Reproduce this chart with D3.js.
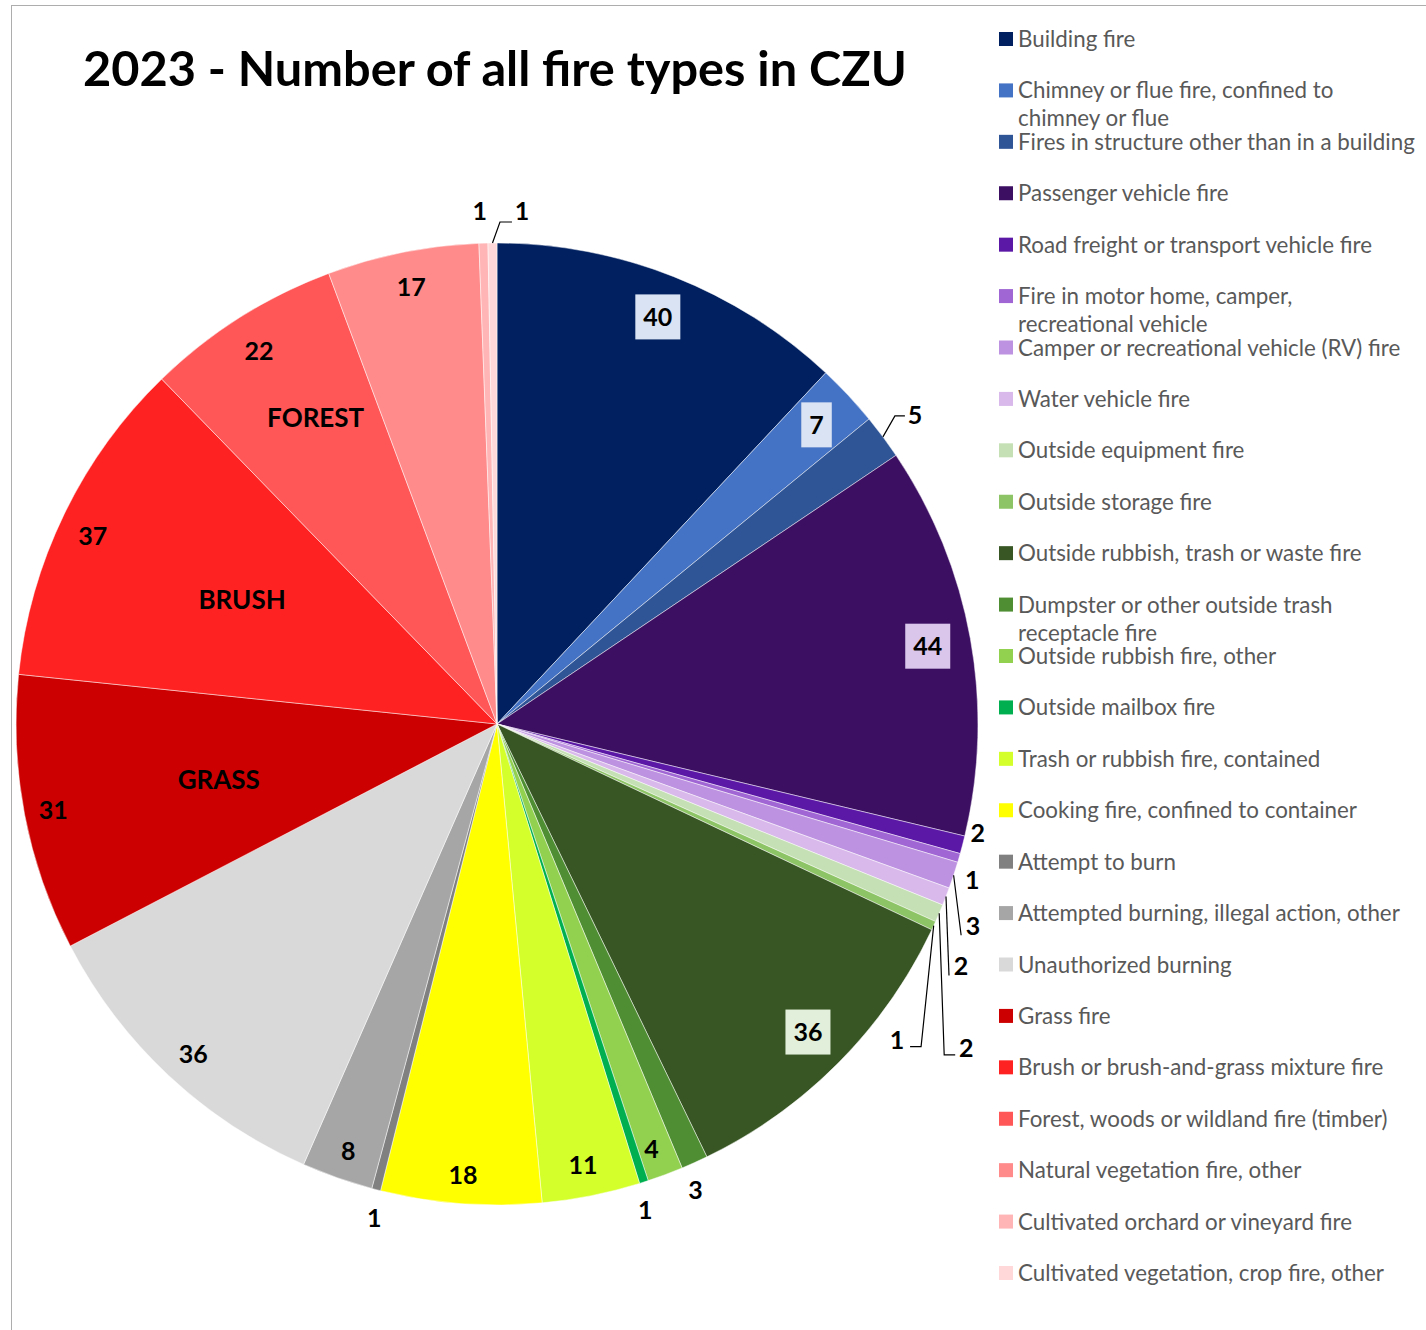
<!DOCTYPE html>
<html>
<head>
<meta charset="utf-8">
<script src="https://cdn.jsdelivr.net/npm/d3@7"></script>
<style>
  body { margin: 0; background: #fff; }
  svg { display: block; }
</style>
</head>
<body>
<script>
// fire types, in the order Excel draws them (clockwise from 12 o'clock)
const categories = [
  'Building fire',
  'Chimney or flue fire, confined to chimney or flue',
  'Fires in structure other than in a building',
  'Passenger vehicle fire',
  'Road freight or transport vehicle fire',
  'Fire in motor home, camper, recreational vehicle',
  'Camper or recreational vehicle (RV) fire',
  'Water vehicle fire',
  'Outside equipment fire',
  'Outside storage fire',
  'Outside rubbish, trash or waste fire',
  'Dumpster or other outside trash receptacle fire',
  'Outside rubbish fire, other',
  'Outside mailbox fire',
  'Trash or rubbish fire, contained',
  'Cooking fire, confined to container',
  'Attempt to burn',
  'Attempted burning, illegal action, other',
  'Unauthorized burning',
  'Grass fire',
  'Brush or brush-and-grass mixture fire',
  'Forest, woods or wildland fire (timber)',
  'Natural vegetation fire, other',
  'Cultivated orchard or vineyard fire',
  'Cultivated vegetation, crop fire, other'
];
const counts = [40, 7, 5, 44, 2, 1, 3, 2, 2, 1, 36, 3, 4, 1, 11, 18, 1, 8, 36, 31, 37, 22, 17, 1, 1];
const colors = [
  '#002060', '#4472C4', '#2F5597', '#3C0F63', '#5B17A6', '#A066D3', '#BD92E0', '#D9B9EC',
  '#C5E0B4', '#8DC465', '#375623', '#4F8E32', '#92D050', '#00B050', '#D4FF2A', '#FFFF00',
  '#808080', '#A6A6A6', '#D9D9D9', '#CC0000', '#FF2222', '#FF5757', '#FF8B8B', '#FFB5B5', '#FFD9D9'
];
// where the legend text wraps to a second line (words on the first line)
const legendBreaks = { 1: 6, 5: 5, 11: 5 };
// text boxes drawn over the wildland slices
const annotations = [
  { slice: 21, text: 'FOREST', r: 0.74, da: 1.7 },
  { slice: 20, text: 'BRUSH', r: 0.59, da: 0.2 },
  { slice: 19, text: 'GRASS', r: 0.59, da: -0.6 }
];

// label placement per slice (Excel "best fit" result)
const labelLayout = [
  { mode: 'box', r: 0.91, fill: '#DAE3F3' },
  { mode: 'box', r: 0.91, fill: '#DAE3F3' },
  { mode: 'leader', path: [[12, -21], [22, -21]], at: [32, -22] },
  { mode: 'box', r: 0.91, fill: '#D9C6EA' },
  { mode: 'out', r: 1.025, da: -1.8 },
  { mode: 'out', r: 1.04, da: 2.0 },
  { mode: 'leader', path: [[7.5, 60]], at: [19.5, 51] },
  { mode: 'leader', path: [[3, 79]], at: [15, 69] },
  { mode: 'leader', path: [[5, 141.5], [16, 141.5]], at: [27, 134.5] },
  { mode: 'leader', path: [[-12.6, 121], [-23.6, 121]], at: [-36.6, 114] },
  { mode: 'box', r: 0.91, fill: '#E2EFDA' },
  { mode: 'out', r: 1.054, da: 1.2 },
  { mode: 'in', r: 0.94, da: 0.5 },
  { mode: 'out', r: 1.056, da: 0.8 },
  { mode: 'in', r: 0.935, da: 0.3 },
  { mode: 'in', r: 0.94, da: 0 },
  { mode: 'out', r: 1.058, da: -0.6 },
  { mode: 'in', r: 0.94, da: -0.2 },
  { mode: 'in', r: 0.933, da: -0.5 },
  { mode: 'in', r: 0.94, da: -0.2 },
  { mode: 'in', r: 0.927, da: -0.9 },
  { mode: 'in', r: 0.92, da: -0.2 },
  { mode: 'in', r: 0.925, da: 0.2 },
  { mode: 'out', r: 1.067, da: -0.3 },
  { mode: 'leader', path: [[7.5, -21], [19.5, -21]], at: [29.5, -32] }
];

const W = 1426, H = 1330;
const cx = 497, cy = 724, R = 481;

const svg = d3.select('body').append('svg')
  .attr('width', W)
  .attr('height', H);

// chart area frame (runs off the right / bottom edge)
svg.append('rect')
  .attr('x', 11.5).attr('y', 5.5)
  .attr('width', W).attr('height', H)
  .attr('fill', '#fff')
  .attr('stroke', '#ADADAD')
  .attr('stroke-width', 1);

// title, fitted to the width it has in the original
const title = svg.append('text')
  .attr('x', 83).attr('y', 86)
  .attr('font-family', 'Lato, sans-serif')
  .attr('font-weight', 700)
  .attr('font-size', 44)
  .attr('fill', '#000')
  .text('2023 - Number of all fire types in CZU');
const tw = title.node().getComputedTextLength();
title.attr('font-size', 44 * 824 / tw);

const pie = d3.pie().sort(null).value(d => d)(counts);
const arc = d3.arc().innerRadius(0).outerRadius(R);

const g = svg.append('g').attr('transform', `translate(${cx},${cy})`);

g.selectAll('path.slice')
  .data(pie)
  .join('path')
  .attr('class', 'slice')
  .attr('d', arc)
  .attr('fill', (d, i) => colors[i])
  .attr('stroke', '#fff')
  .attr('stroke-width', 0.8)
  .attr('stroke-opacity', 0.6);

const rad = Math.PI / 180;
const polar = (a, r) => [r * Math.sin(a), -r * Math.cos(a)];
const mid = d => (d.startAngle + d.endAngle) / 2;

const labelFont = 'Lato, sans-serif';
const labels = g.append('g');

pie.forEach((d, i) => {
  const L = labelLayout[i];
  let x, y;
  if (L.mode === 'leader') {
    const s = polar(mid(d), R);
    const pts = [s].concat(L.path.map(p => [s[0] + p[0], s[1] + p[1]]));
    labels.append('path')
      .attr('d', d3.line()(pts))
      .attr('fill', 'none')
      .attr('stroke', '#000')
      .attr('stroke-width', 1.2);
    x = s[0] + L.at[0];
    y = s[1] + L.at[1];
  } else {
    [x, y] = polar(mid(d) + (L.da || 0) * rad, L.r * R);
  }
  const t = labels.append('text')
    .attr('x', x).attr('y', y)
    .attr('dy', '0.36em')
    .attr('text-anchor', 'middle')
    .attr('font-family', labelFont)
    .attr('font-weight', 700)
    .attr('font-size', 25)
    .attr('fill', '#000')
    .text(d.data);
  if (L.mode === 'box') {
    const bb = t.node().getBBox();
    const bw = Math.max(bb.width + 16, 30), bh = 45;
    labels.insert('rect', () => t.node())
      .attr('x', x - bw / 2).attr('y', y - bh / 2)
      .attr('width', bw).attr('height', bh)
      .attr('fill', L.fill);
  }
});

annotations.forEach(a => {
  const d = pie[a.slice];
  const [x, y] = polar(mid(d) + a.da * rad, a.r * R);
  g.append('text')
    .attr('x', x).attr('y', y)
    .attr('dy', '0.36em')
    .attr('text-anchor', 'middle')
    .attr('font-family', labelFont)
    .attr('font-weight', 700)
    .attr('font-size', 26)
    .attr('fill', '#000')
    .text(a.text);
});

// legend
const ly = d3.scalePoint().domain(d3.range(categories.length)).range([39, 1273]);
const legend = svg.append('g');

// size the legend font so the longest one-line entry fits like the original
const probe = legend.append('text')
  .attr('font-family', 'Lato, sans-serif').attr('font-size', 20)
  .text(categories[2]);
const legendSize = 20 * 397 / probe.node().getComputedTextLength();
probe.remove();

categories.forEach((name, i) => {
  const y = ly(i);
  legend.append('rect')
    .attr('x', 999).attr('y', y - 7)
    .attr('width', 14).attr('height', 14)
    .attr('fill', colors[i]);
  const words = name.split(' ');
  const lines = legendBreaks[i]
    ? [words.slice(0, legendBreaks[i]).join(' '), words.slice(legendBreaks[i]).join(' ')]
    : [name];
  const t = legend.append('text')
    .attr('font-family', 'Lato, sans-serif')
    .attr('font-size', legendSize)
    .attr('fill', '#595959');
  lines.forEach((ln, k) => {
    t.append('tspan')
      .attr('x', 1018)
      .attr('y', y + k * 28)
      .attr('dy', '0.36em')
      .text(ln);
  });
});
</script>
</body>
</html>
